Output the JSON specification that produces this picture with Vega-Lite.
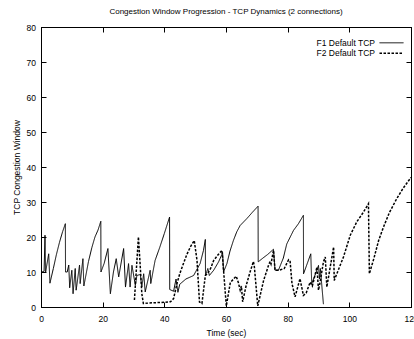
{
  "$schema": "https://vega.github.io/schema/vega-lite/v6.json",
  "width": 370,
  "height": 280,
  "autosize": "none",
  "padding": {"left": 41, "top": 27, "right": 3, "bottom": 32},
  "title": {"text": "Congestion Window Progression - TCP Dynamics (2 connections)", "font": "Liberation Sans", "fontSize": 8, "fontWeight": "normal", "color": "black", "offset": 7},
  "config": {
    "view": {"stroke": "black", "strokeWidth": 1},
    "axis": {"domainColor": "black", "tickColor": "black", "tickSize": -5, "labelFont": "Liberation Sans", "labelFontSize": 8.5, "labelColor": "black", "titleFont": "Liberation Sans", "titleFontSize": 8.5, "titleFontWeight": "normal", "titleColor": "black", "grid": false, "labelFlush": false, "labelOverlap": false},
    "axisX": {"labelPadding": 12},
    "axisY": {"labelPadding": 10.5}
  },
  "datasets": {
    "cwnd": [
      {"t": 0, "w": 20.3, "s": "F1 Default TCP"},
      {"t": 0.15, "w": 10, "s": "F1 Default TCP"},
      {"t": 1.0, "w": 10.2, "s": "F1 Default TCP"},
      {"t": 1.3, "w": 20.5, "s": "F1 Default TCP"},
      {"t": 1.5, "w": 10, "s": "F1 Default TCP"},
      {"t": 2.5, "w": 15.2, "s": "F1 Default TCP"},
      {"t": 2.9, "w": 6.8, "s": "F1 Default TCP"},
      {"t": 4, "w": 11, "s": "F1 Default TCP"},
      {"t": 5, "w": 15, "s": "F1 Default TCP"},
      {"t": 6, "w": 18.5, "s": "F1 Default TCP"},
      {"t": 7, "w": 21.5, "s": "F1 Default TCP"},
      {"t": 7.9, "w": 23.8, "s": "F1 Default TCP"},
      {"t": 7.95, "w": 10, "s": "F1 Default TCP"},
      {"t": 8.5, "w": 10, "s": "F1 Default TCP"},
      {"t": 9, "w": 12, "s": "F1 Default TCP"},
      {"t": 9.3, "w": 5.5, "s": "F1 Default TCP"},
      {"t": 10, "w": 10.5, "s": "F1 Default TCP"},
      {"t": 10.4, "w": 3.8, "s": "F1 Default TCP"},
      {"t": 11.1, "w": 11, "s": "F1 Default TCP"},
      {"t": 11.4, "w": 4.8, "s": "F1 Default TCP"},
      {"t": 12.5, "w": 12, "s": "F1 Default TCP"},
      {"t": 12.7, "w": 6.7, "s": "F1 Default TCP"},
      {"t": 13.6, "w": 13.8, "s": "F1 Default TCP"},
      {"t": 13.9, "w": 6, "s": "F1 Default TCP"},
      {"t": 15.4, "w": 13, "s": "F1 Default TCP"},
      {"t": 16.5, "w": 17, "s": "F1 Default TCP"},
      {"t": 17.5, "w": 20, "s": "F1 Default TCP"},
      {"t": 18.5, "w": 22, "s": "F1 Default TCP"},
      {"t": 19.4, "w": 24.5, "s": "F1 Default TCP"},
      {"t": 19.45, "w": 10, "s": "F1 Default TCP"},
      {"t": 20.5, "w": 12.5, "s": "F1 Default TCP"},
      {"t": 21.7, "w": 16.7, "s": "F1 Default TCP"},
      {"t": 22.5, "w": 3.8, "s": "F1 Default TCP"},
      {"t": 23.5, "w": 10, "s": "F1 Default TCP"},
      {"t": 24.4, "w": 13.8, "s": "F1 Default TCP"},
      {"t": 25.2, "w": 8.6, "s": "F1 Default TCP"},
      {"t": 26.8, "w": 16.7, "s": "F1 Default TCP"},
      {"t": 27.4, "w": 5.7, "s": "F1 Default TCP"},
      {"t": 28.4, "w": 12.4, "s": "F1 Default TCP"},
      {"t": 28.9, "w": 5.7, "s": "F1 Default TCP"},
      {"t": 29.5, "w": 11.9, "s": "F1 Default TCP"},
      {"t": 30.6, "w": 6.2, "s": "F1 Default TCP"},
      {"t": 31.1, "w": 9, "s": "F1 Default TCP"},
      {"t": 32.2, "w": 9.3, "s": "F1 Default TCP"},
      {"t": 32.7, "w": 5.7, "s": "F1 Default TCP"},
      {"t": 33.3, "w": 9.5, "s": "F1 Default TCP"},
      {"t": 33.8, "w": 4.3, "s": "F1 Default TCP"},
      {"t": 35.4, "w": 10.5, "s": "F1 Default TCP"},
      {"t": 35.6, "w": 6.7, "s": "F1 Default TCP"},
      {"t": 37, "w": 13.3, "s": "F1 Default TCP"},
      {"t": 38.5, "w": 17, "s": "F1 Default TCP"},
      {"t": 40, "w": 21, "s": "F1 Default TCP"},
      {"t": 41.7, "w": 25.7, "s": "F1 Default TCP"},
      {"t": 41.75, "w": 5, "s": "F1 Default TCP"},
      {"t": 43, "w": 4.5, "s": "F1 Default TCP"},
      {"t": 43.8, "w": 8, "s": "F1 Default TCP"},
      {"t": 44.4, "w": 4.2, "s": "F1 Default TCP"},
      {"t": 45, "w": 6.5, "s": "F1 Default TCP"},
      {"t": 47, "w": 8, "s": "F1 Default TCP"},
      {"t": 49.5, "w": 9, "s": "F1 Default TCP"},
      {"t": 51.6, "w": 12.4, "s": "F1 Default TCP"},
      {"t": 52.7, "w": 16.2, "s": "F1 Default TCP"},
      {"t": 53.3, "w": 19.3, "s": "F1 Default TCP"},
      {"t": 53.35, "w": 9, "s": "F1 Default TCP"},
      {"t": 54.1, "w": 11, "s": "F1 Default TCP"},
      {"t": 54.6, "w": 9, "s": "F1 Default TCP"},
      {"t": 56, "w": 10.5, "s": "F1 Default TCP"},
      {"t": 57.6, "w": 12.9, "s": "F1 Default TCP"},
      {"t": 58.9, "w": 15.5, "s": "F1 Default TCP"},
      {"t": 59.2, "w": 10, "s": "F1 Default TCP"},
      {"t": 60.3, "w": 12.4, "s": "F1 Default TCP"},
      {"t": 61.3, "w": 16, "s": "F1 Default TCP"},
      {"t": 62.4, "w": 19, "s": "F1 Default TCP"},
      {"t": 63.5, "w": 21.5, "s": "F1 Default TCP"},
      {"t": 64.6, "w": 23.3, "s": "F1 Default TCP"},
      {"t": 66.8, "w": 25.3, "s": "F1 Default TCP"},
      {"t": 68.5, "w": 27, "s": "F1 Default TCP"},
      {"t": 70.4, "w": 28.8, "s": "F1 Default TCP"},
      {"t": 70.45, "w": 12.9, "s": "F1 Default TCP"},
      {"t": 72, "w": 14, "s": "F1 Default TCP"},
      {"t": 73.5, "w": 15, "s": "F1 Default TCP"},
      {"t": 75.4, "w": 16.5, "s": "F1 Default TCP"},
      {"t": 75.9, "w": 10.5, "s": "F1 Default TCP"},
      {"t": 77, "w": 10.5, "s": "F1 Default TCP"},
      {"t": 78.6, "w": 14, "s": "F1 Default TCP"},
      {"t": 79.7, "w": 18, "s": "F1 Default TCP"},
      {"t": 81.9, "w": 21.9, "s": "F1 Default TCP"},
      {"t": 83.5, "w": 23.8, "s": "F1 Default TCP"},
      {"t": 85.1, "w": 26.2, "s": "F1 Default TCP"},
      {"t": 85.15, "w": 9.5, "s": "F1 Default TCP"},
      {"t": 87.5, "w": 15.2, "s": "F1 Default TCP"},
      {"t": 87.8, "w": 6.7, "s": "F1 Default TCP"},
      {"t": 89.5, "w": 10.5, "s": "F1 Default TCP"},
      {"t": 90, "w": 11.9, "s": "F1 Default TCP"},
      {"t": 90.3, "w": 8, "s": "F1 Default TCP"},
      {"t": 90.6, "w": 11, "s": "F1 Default TCP"},
      {"t": 91.6, "w": 0.8, "s": "F1 Default TCP"},
      {"t": 30.3, "w": 2, "s": "F2 Default TCP"},
      {"t": 31.6, "w": 20, "s": "F2 Default TCP"},
      {"t": 32.3, "w": 10, "s": "F2 Default TCP"},
      {"t": 32.7, "w": 3.8, "s": "F2 Default TCP"},
      {"t": 33.2, "w": 1, "s": "F2 Default TCP"},
      {"t": 36, "w": 1.2, "s": "F2 Default TCP"},
      {"t": 39, "w": 1.3, "s": "F2 Default TCP"},
      {"t": 42, "w": 1.5, "s": "F2 Default TCP"},
      {"t": 43, "w": 2.4, "s": "F2 Default TCP"},
      {"t": 44.1, "w": 6.7, "s": "F2 Default TCP"},
      {"t": 45, "w": 9.5, "s": "F2 Default TCP"},
      {"t": 46.2, "w": 12.4, "s": "F2 Default TCP"},
      {"t": 47.3, "w": 15, "s": "F2 Default TCP"},
      {"t": 48.4, "w": 17.1, "s": "F2 Default TCP"},
      {"t": 49.7, "w": 19, "s": "F2 Default TCP"},
      {"t": 50.6, "w": 13.3, "s": "F2 Default TCP"},
      {"t": 51.4, "w": 1.4, "s": "F2 Default TCP"},
      {"t": 52.2, "w": 1, "s": "F2 Default TCP"},
      {"t": 53.3, "w": 9, "s": "F2 Default TCP"},
      {"t": 54, "w": 9.5, "s": "F2 Default TCP"},
      {"t": 55, "w": 11, "s": "F2 Default TCP"},
      {"t": 56, "w": 13.3, "s": "F2 Default TCP"},
      {"t": 57.5, "w": 15, "s": "F2 Default TCP"},
      {"t": 58.7, "w": 16.2, "s": "F2 Default TCP"},
      {"t": 60.1, "w": 0.3, "s": "F2 Default TCP"},
      {"t": 61.4, "w": 7, "s": "F2 Default TCP"},
      {"t": 63.3, "w": 8.8, "s": "F2 Default TCP"},
      {"t": 64, "w": 7, "s": "F2 Default TCP"},
      {"t": 64.6, "w": 4.8, "s": "F2 Default TCP"},
      {"t": 65, "w": 6, "s": "F2 Default TCP"},
      {"t": 65.4, "w": 1.5, "s": "F2 Default TCP"},
      {"t": 66.5, "w": 6, "s": "F2 Default TCP"},
      {"t": 67.8, "w": 10, "s": "F2 Default TCP"},
      {"t": 68.9, "w": 13, "s": "F2 Default TCP"},
      {"t": 69.2, "w": 11.5, "s": "F2 Default TCP"},
      {"t": 70.3, "w": 0.3, "s": "F2 Default TCP"},
      {"t": 71, "w": 3, "s": "F2 Default TCP"},
      {"t": 72.2, "w": 7.6, "s": "F2 Default TCP"},
      {"t": 73.8, "w": 11.9, "s": "F2 Default TCP"},
      {"t": 74.3, "w": 13, "s": "F2 Default TCP"},
      {"t": 74.6, "w": 12.3, "s": "F2 Default TCP"},
      {"t": 75.4, "w": 16.2, "s": "F2 Default TCP"},
      {"t": 75.9, "w": 10.5, "s": "F2 Default TCP"},
      {"t": 77.2, "w": 10.5, "s": "F2 Default TCP"},
      {"t": 78.9, "w": 11, "s": "F2 Default TCP"},
      {"t": 80.3, "w": 13.5, "s": "F2 Default TCP"},
      {"t": 80.8, "w": 13, "s": "F2 Default TCP"},
      {"t": 81.4, "w": 6.7, "s": "F2 Default TCP"},
      {"t": 82.4, "w": 2.9, "s": "F2 Default TCP"},
      {"t": 84, "w": 8.1, "s": "F2 Default TCP"},
      {"t": 85.1, "w": 3.3, "s": "F2 Default TCP"},
      {"t": 86, "w": 4, "s": "F2 Default TCP"},
      {"t": 87.3, "w": 7.1, "s": "F2 Default TCP"},
      {"t": 88, "w": 6, "s": "F2 Default TCP"},
      {"t": 89.5, "w": 11.4, "s": "F2 Default TCP"},
      {"t": 90, "w": 4.8, "s": "F2 Default TCP"},
      {"t": 90.5, "w": 7, "s": "F2 Default TCP"},
      {"t": 91.6, "w": 12.9, "s": "F2 Default TCP"},
      {"t": 92.2, "w": 14.3, "s": "F2 Default TCP"},
      {"t": 92.7, "w": 5.7, "s": "F2 Default TCP"},
      {"t": 94.9, "w": 17.1, "s": "F2 Default TCP"},
      {"t": 95.1, "w": 7.6, "s": "F2 Default TCP"},
      {"t": 98.1, "w": 14.3, "s": "F2 Default TCP"},
      {"t": 100.3, "w": 20.5, "s": "F2 Default TCP"},
      {"t": 102.4, "w": 24.3, "s": "F2 Default TCP"},
      {"t": 104.5, "w": 27, "s": "F2 Default TCP"},
      {"t": 106.2, "w": 29.5, "s": "F2 Default TCP"},
      {"t": 106.5, "w": 9.5, "s": "F2 Default TCP"},
      {"t": 108, "w": 14, "s": "F2 Default TCP"},
      {"t": 109.5, "w": 19, "s": "F2 Default TCP"},
      {"t": 111.1, "w": 22.9, "s": "F2 Default TCP"},
      {"t": 113, "w": 27, "s": "F2 Default TCP"},
      {"t": 115.4, "w": 31, "s": "F2 Default TCP"},
      {"t": 117.5, "w": 34, "s": "F2 Default TCP"},
      {"t": 120, "w": 37, "s": "F2 Default TCP"}
    ]
  },
  "data": {"name": "cwnd"},
  "layer": [
    {
      "mark": {"type": "line", "color": "black", "clip": true},
      "encoding": {
        "x": {"field": "t", "type": "quantitative", "scale": {"domain": [0, 120], "nice": false}, "axis": {"values": [0, 20, 40, 60, 80, 100, 120], "title": "Time (sec)", "titlePadding": 6}},
        "y": {"field": "w", "type": "quantitative", "scale": {"domain": [0, 80], "nice": false}, "axis": {"values": [0, 10, 20, 30, 40, 50, 60, 70, 80], "title": "TCP Congestion Window", "titlePadding": 5}},
        "strokeWidth": {"field": "s", "type": "nominal", "scale": {"domain": ["F1 Default TCP", "F2 Default TCP"], "range": [1, 1.5]}, "legend": null},
        "strokeDash": {"field": "s", "type": "nominal", "scale": {"domain": ["F1 Default TCP", "F2 Default TCP"], "range": [[1, 0], [2.5, 1.5]]},
          "legend": {"title": null, "orient": "none", "legendX": 344.5, "legendY": 10.3, "padding": 0, "symbolType": "M-2.4,0H2.4", "symbolSize": 100, "symbolStrokeColor": "black", "symbolStrokeWidth": 1.3, "labelFont": "Liberation Sans", "labelFontSize": 8.5, "labelColor": "black", "labelAlign": "right", "labelOffset": -22.5, "rowPadding": 0}}
      }
    },
    {
      "mark": {"type": "line", "opacity": 0},
      "encoding": {
        "x": {"field": "t", "type": "quantitative", "axis": {"orient": "top", "values": [0, 20, 40, 60, 80, 100, 120], "labels": false, "title": null}},
        "y": {"field": "w", "type": "quantitative", "axis": {"orient": "right", "values": [0, 10, 20, 30, 40, 50, 60, 70, 80], "labels": false, "title": null}}
      }
    }
  ],
  "resolve": {"axis": {"x": "independent", "y": "independent"}}
}
